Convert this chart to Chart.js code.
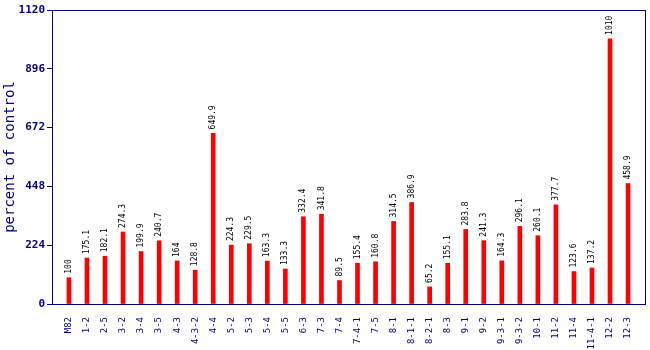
<!DOCTYPE html>
<html>
<head>
<meta charset="utf-8">
<script src="https://cdn.jsdelivr.net/npm/chart.js@4/dist/chart.umd.min.js"></script>
<style>
  html, body { margin: 0; padding: 0; background: #fff; }
  #wrap { width: 650px; height: 350px; }
</style>
</head>
<body>
<div id="wrap"><canvas id="bars" width="650" height="350"></canvas></div>
<script>
var lines = ["M82", "1-2", "2-5", "3-2", "3-4", "3-5", "4-3", "4-3-2", "4-4", "5-2",
    "5-3", "5-4", "5-5", "6-3", "7-3", "7-4", "7-4-1", "7-5", "8-1", "8-1-1",
    "8-2-1", "8-3", "9-1", "9-2", "9-3-1", "9-3-2", "10-1", "11-2", "11-4", "11-4-1",
    "12-2", "12-3"];
var percent = [100, 175.1, 182.1, 274.3, 199.9, 240.7, 164, 128.8, 649.9, 224.3,
    229.5, 163.3, 133.3, 332.4, 341.8, 89.5, 155.4, 160.8, 314.5, 386.9,
    65.2, 155.1, 283.8, 241.3, 164.3, 296.1, 260.1, 377.7, 123.6, 137.2,
    1010, 458.9];
var yTicks = [0, 224, 448, 672, 896, 1120];

var navy = "#000080";
var mono = "'DejaVu Sans Mono', 'Liberation Mono', monospace";

// frame around the plot area
var frame = {
    id: "frame",
    afterDraw: function(chart) {
        var a = chart.chartArea, c = chart.ctx;
        c.save();
        c.strokeStyle = navy;
        c.lineWidth = 1;
        c.strokeRect(Math.round(a.left) + 0.5, Math.round(a.top) + 0.5,
            Math.round(a.right - a.left), Math.round(a.bottom - a.top));
        c.restore();
    }
};

// value written vertically above each bar
var valueLabels = {
    id: "valueLabels",
    afterDatasetsDraw: function(chart) {
        var c = chart.ctx;
        var meta = chart.getDatasetMeta(0);
        c.save();
        c.font = "8px " + mono;
        c.fillStyle = "#000";
        c.textAlign = "left";
        c.textBaseline = "middle";
        meta.data.forEach(function(bar, i) {
            c.save();
            c.translate(bar.x, bar.y - 4);
            c.rotate(-Math.PI / 2);
            c.fillText(String(percent[i]), 0, 0);
            c.restore();
        });
        c.restore();
    }
};

var points = percent.map(function(v, i) { return { x: i, y: v }; });

new Chart(document.getElementById("bars").getContext("2d"), {
    type: "bar",
    data: {
        datasets: [{
            data: points,
            backgroundColor: "#ff0000",
            borderWidth: 0,
            barThickness: 4
        }]
    },
    options: {
        responsive: false,
        animation: false,
        layout: { padding: { top: 10, right: 5, left: 0, bottom: 0 } },
        plugins: {
            legend: { display: false },
            tooltip: { enabled: false }
        },
        scales: {
            x: {
                type: "linear",
                offset: false,
                min: -0.94,
                max: lines.length - 1 + 0.94,
                afterBuildTicks: function(axis) {
                    axis.ticks = lines.map(function(l, i) { return { value: i }; });
                },
                grid: { display: false },
                border: { color: navy },
                afterFit: function(axis) { axis.height = 46; },
                ticks: {
                    color: navy,
                    font: { family: mono, size: 9 },
                    minRotation: 90,
                    maxRotation: 90,
                    autoSkip: false,
                    padding: 5,
                    callback: function(v) { return lines[v]; }
                }
            },
            y: {
                min: 0,
                max: 1120,
                afterBuildTicks: function(axis) {
                    axis.ticks = yTicks.map(function(v) { return { value: v }; });
                },
                afterFit: function(axis) { axis.width = 52; },
                grid: { drawOnChartArea: false, color: navy, tickLength: 5 },
                border: { color: navy },
                ticks: {
                    color: navy,
                    font: { family: mono, size: 11, weight: "bold" },
                    padding: 2,
                    callback: function(v) { return String(v); }
                },
                title: {
                    display: true,
                    text: "percent of control",
                    color: navy,
                    font: { family: mono, size: 14 },
                    padding: { top: 2, bottom: 0 }
                }
            }
        }
    },
    plugins: [frame, valueLabels]
});
</script>
</body>
</html>
